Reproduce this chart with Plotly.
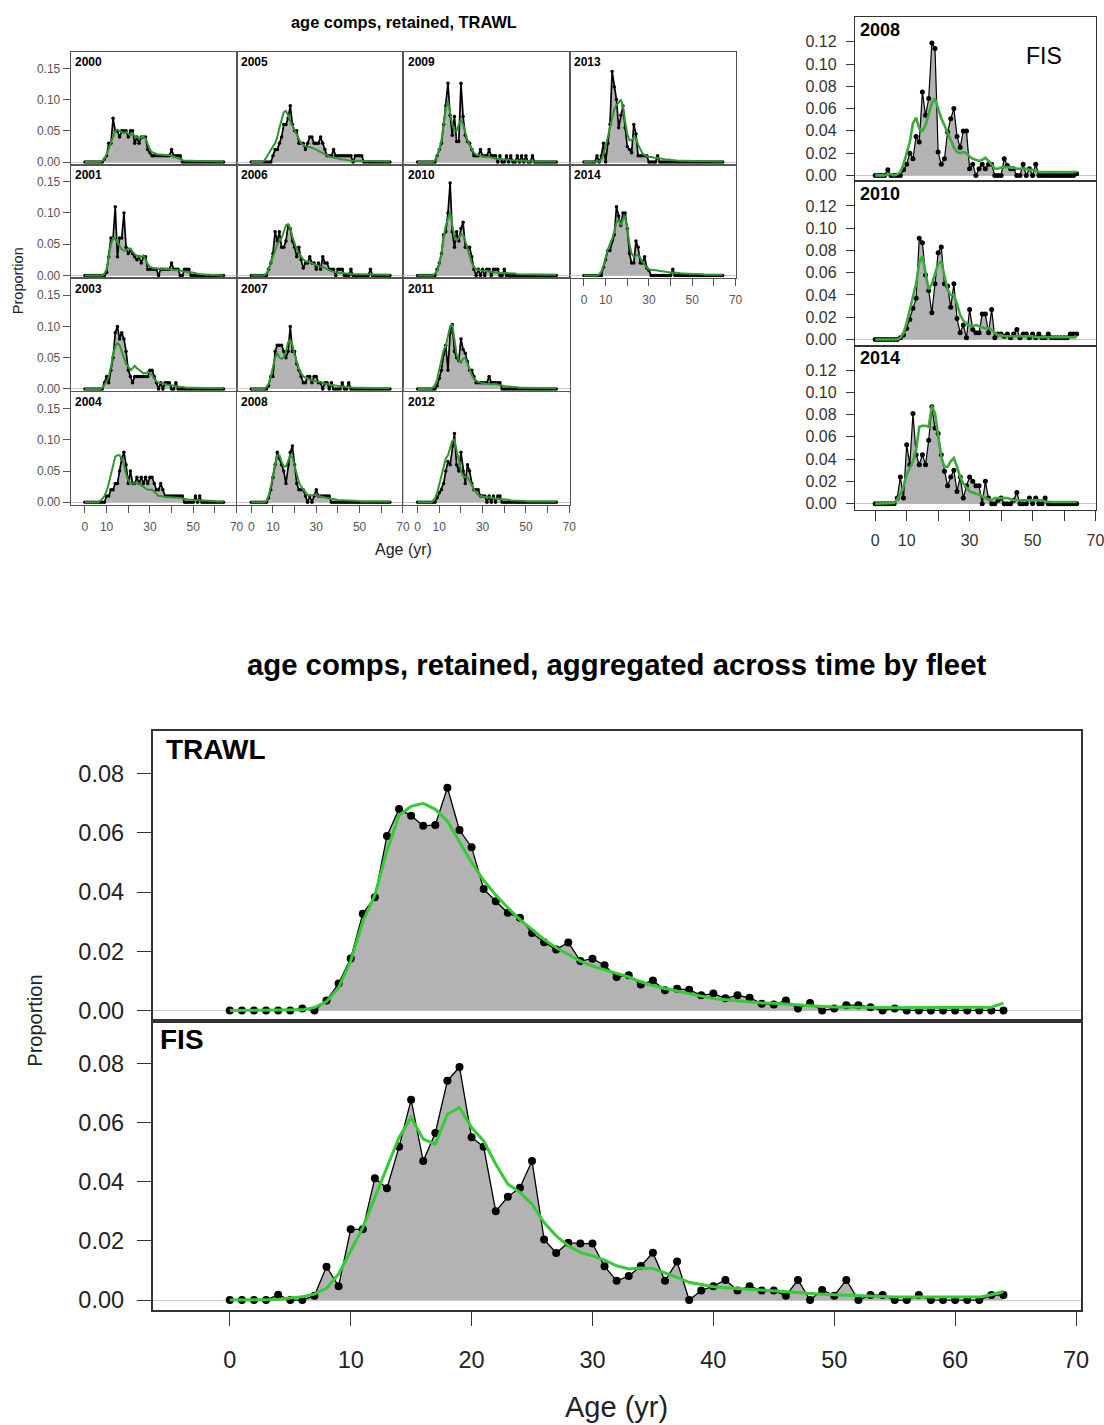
import plotly.graph_objects as go

ages = list(range(65))

# ---------------- TRAWL by year (observed / expected) ----------------
trawl_2000_obs = [0,0,0,0,0,0,0,0,0,0.005,
    0.01,0.03,0.03,0.07,0.05,0.05,0.04,0.05,0.05,0.05,
    0.04,0.05,0.05,0.03,0.04,0.03,0.04,0.04,0.04,0.02,
    0.015,0.01,0.01,0.01,0.01,0.01,0.01,0.01,0.01,0.01,
    0.02,0.01,0.01,0.01,0.01,0,0,0,0,0,
    0,0,0,0,0,0,0,0,0,0,
    0,0,0,0,0]
trawl_2000_exp = [0,0,0,0,0,0,0,0,0.002,0.006,
    0.012,0.022,0.033,0.043,0.05,0.052,0.05,0.047,0.046,0.048,
    0.045,0.043,0.046,0.042,0.04,0.038,0.04,0.04,0.038,0.028,
    0.02,0.016,0.014,0.013,0.012,0.012,0.012,0.012,0.011,0.011,
    0.01,0.009,0.008,0.006,0.005,0.003,0.002,0.002,0.002,0.002,
    0.002,0.001,0.001,0.001,0.001,0.001,0.001,0.001,0.001,0.001,
    0.001,0.001,0.001,0.001,0.001]
trawl_2001_obs = [0,0,0,0,0,0,0,0,0,0,
    0.005,0.03,0.06,0.06,0.11,0.03,0.06,0.06,0.10,0.045,
    0.035,0.04,0.035,0.03,0.025,0.03,0.02,0.03,0.03,0.01,
    0.01,0.01,0.01,0.01,0,0.01,0.01,0.01,0.01,0.01,
    0.02,0.01,0.01,0.01,0,0,0.01,0.01,0.01,0,
    0,0,0,0,0,0,0,0,0,0,
    0,0,0,0,0]
trawl_2001_exp = [0,0,0,0,0,0,0,0,0,0.003,
    0.01,0.03,0.05,0.06,0.058,0.053,0.048,0.042,0.04,0.04,
    0.043,0.043,0.038,0.034,0.032,0.03,0.03,0.032,0.025,0.018,
    0.014,0.012,0.011,0.011,0.011,0.011,0.01,0.01,0.01,0.01,
    0.01,0.009,0.009,0.008,0.008,0.007,0.006,0.006,0.005,0.005,
    0.004,0.003,0.003,0.002,0.002,0.001,0.001,0.001,0.001,0.001,
    0.001,0.001,0,0,0]
trawl_2003_obs = [0,0,0,0,0,0,0,0,0,0.01,
    0.02,0.01,0.03,0.05,0.09,0.10,0.08,0.09,0.08,0.06,
    0.03,0.02,0.01,0.02,0.02,0.02,0.02,0.02,0.02,0.02,
    0.03,0.03,0.02,0.01,0,0.01,0,0.01,0.01,0.01,
    0,0,0.01,0,0,0,0,0,0,0,
    0,0,0,0,0,0,0,0,0,0,
    0,0,0,0,0]
trawl_2003_exp = [0,0,0,0,0,0,0,0,0.002,0.006,
    0.012,0.02,0.035,0.055,0.068,0.073,0.07,0.06,0.048,0.04,
    0.036,0.03,0.033,0.037,0.033,0.03,0.027,0.025,0.025,0.027,
    0.025,0.022,0.016,0.012,0.01,0.009,0.008,0.008,0.007,0.006,
    0.006,0.005,0.004,0.004,0.003,0.003,0.002,0.002,0.002,0.002,
    0.001,0.001,0.001,0.001,0.001,0.001,0.001,0.001,0.001,0.001,
    0.001,0.001,0.001,0.001,0.001]
trawl_2004_obs = [0,0,0,0,0,0,0,0,0,0,
    0.01,0.01,0.02,0.02,0.03,0.03,0.05,0.07,0.08,0.06,
    0.03,0.05,0.03,0.03,0.04,0.03,0.04,0.03,0.04,0.03,
    0.04,0.04,0.03,0.02,0.02,0.03,0.02,0.01,0.01,0.01,
    0.01,0.01,0.01,0.01,0.01,0.01,0,0,0,0,
    0,0.01,0,0.01,0,0,0,0,0,0,
    0,0,0,0,0]
trawl_2004_exp = [0,0,0,0,0,0,0,0.002,0.005,0.01,
    0.018,0.03,0.045,0.062,0.073,0.075,0.075,0.07,0.06,0.045,
    0.035,0.03,0.03,0.03,0.032,0.03,0.028,0.025,0.022,0.02,
    0.02,0.02,0.017,0.013,0.01,0.01,0.009,0.009,0.008,0.008,
    0.008,0.007,0.007,0.007,0.007,0.006,0.005,0.005,0.004,0.004,
    0.003,0.003,0.003,0.003,0.003,0.003,0.002,0.002,0.002,0.002,
    0.002,0.001,0.001,0.001,0.001]
trawl_2005_obs = [0,0,0,0,0,0,0,0,0,0,
    0.01,0.02,0.02,0.03,0.04,0.06,0.06,0.07,0.09,0.06,
    0.05,0.05,0.03,0.03,0.03,0.02,0.03,0.04,0.04,0.03,
    0.03,0.03,0.04,0.03,0.02,0.01,0.01,0.01,0.02,0.01,
    0.01,0.01,0.01,0.01,0.01,0.01,0.01,0,0.01,0.01,
    0.01,0.01,0,0,0,0,0,0,0,0,
    0,0,0,0,0]
trawl_2005_exp = [0,0,0,0,0,0,0.002,0.008,0.015,0.02,
    0.025,0.03,0.04,0.055,0.07,0.08,0.082,0.075,0.065,0.058,
    0.05,0.043,0.035,0.03,0.027,0.025,0.024,0.024,0.023,0.022,
    0.02,0.018,0.016,0.014,0.012,0.01,0.009,0.008,0.007,0.006,
    0.005,0.004,0.004,0.004,0.003,0.003,0.002,0.002,0.002,0.002,
    0.002,0.001,0.001,0.001,0.001,0.001,0.001,0.001,0.001,0.001,
    0.001,0.001,0.001,0.001,0.001]
trawl_2006_obs = [0,0,0,0,0,0,0,0,0.01,0.02,
    0.035,0.07,0.055,0.07,0.045,0.045,0.055,0.08,0.075,0.055,
    0.045,0.03,0.045,0.025,0.012,0.02,0.02,0.03,0.02,0.02,
    0.01,0.02,0.01,0.03,0.02,0.02,0.01,0.01,0.01,0,
    0.01,0.01,0.01,0,0,0,0.01,0,0,0,
    0,0,0,0,0,0.01,0,0,0,0,
    0,0,0,0,0]
trawl_2006_exp = [0,0,0,0,0,0,0,0.003,0.01,0.02,
    0.03,0.042,0.05,0.055,0.06,0.07,0.08,0.082,0.075,0.062,
    0.05,0.042,0.035,0.03,0.026,0.023,0.022,0.022,0.02,0.018,
    0.016,0.015,0.014,0.014,0.012,0.01,0.008,0.007,0.006,0.005,
    0.005,0.004,0.004,0.003,0.003,0.003,0.002,0.002,0.002,0.002,
    0.002,0.001,0.001,0.001,0.001,0.001,0.001,0.001,0.001,0.001,
    0.001,0.001,0.001,0.001,0.001]
trawl_2007_obs = [0,0,0,0,0,0,0,0,0.005,0.02,
    0.02,0.06,0.07,0.07,0.07,0.06,0.05,0.06,0.10,0.06,
    0.06,0.04,0.03,0.02,0.01,0.01,0.02,0.02,0.01,0.02,
    0.02,0.01,0.01,0,0.01,0.01,0,0.01,0,0,
    0,0,0.01,0,0,0.01,0,0,0,0,
    0,0,0,0,0,0,0,0,0,0,
    0,0,0,0,0]
trawl_2007_exp = [0,0,0,0,0,0,0,0.003,0.008,0.02,
    0.035,0.05,0.057,0.05,0.048,0.05,0.06,0.075,0.078,0.07,
    0.055,0.042,0.032,0.025,0.02,0.018,0.016,0.015,0.014,0.013,
    0.012,0.011,0.01,0.009,0.009,0.008,0.007,0.006,0.006,0.005,
    0.005,0.004,0.004,0.003,0.003,0.003,0.002,0.002,0.002,0.002,
    0.002,0.001,0.001,0.001,0.001,0.001,0.001,0.001,0.001,0.001,
    0.001,0.001,0.001,0.001,0.001]
trawl_2008_obs = [0,0,0,0,0,0,0,0,0.007,0.02,
    0.04,0.06,0.08,0.07,0.06,0.05,0.03,0.06,0.08,0.09,
    0.06,0.03,0.02,0.02,0.02,0.01,0,0.01,0,0.01,
    0.02,0.01,0.01,0.01,0.01,0.01,0.01,0,0,0,
    0,0,0,0,0,0,0,0,0,0,
    0,0,0,0,0,0,0,0,0,0,
    0,0,0,0,0]
trawl_2008_exp = [0,0,0,0,0,0,0,0.002,0.01,0.025,
    0.045,0.06,0.075,0.075,0.065,0.057,0.057,0.065,0.075,0.072,
    0.06,0.045,0.032,0.025,0.02,0.015,0.012,0.011,0.011,0.012,
    0.012,0.01,0.009,0.008,0.008,0.007,0.006,0.005,0.005,0.004,
    0.004,0.003,0.003,0.003,0.003,0.002,0.002,0.002,0.002,0.002,
    0.002,0.001,0.001,0.001,0.001,0.001,0.001,0.001,0.001,0.001,
    0.001,0.001,0.001,0.001,0.001]
trawl_2009_obs = [0,0,0,0,0,0,0,0,0,0.01,
    0.02,0.03,0.06,0.09,0.126,0.075,0.043,0.073,0.033,0.033,
    0.126,0.073,0.043,0.033,0.03,0.02,0.01,0.01,0.01,0.02,
    0.01,0.01,0.01,0.02,0.01,0.01,0.01,0,0.01,0,
    0,0.01,0,0.01,0,0,0.01,0,0.01,0,
    0.01,0,0,0.01,0,0,0,0,0,0,
    0,0,0,0,0]
trawl_2009_exp = [0,0,0,0,0,0,0,0,0.003,0.01,
    0.02,0.035,0.06,0.085,0.098,0.08,0.06,0.05,0.05,0.06,
    0.068,0.06,0.045,0.035,0.027,0.02,0.015,0.012,0.011,0.01,
    0.009,0.009,0.008,0.008,0.007,0.007,0.006,0.005,0.005,0.005,
    0.004,0.004,0.004,0.003,0.003,0.003,0.002,0.002,0.002,0.002,
    0.002,0.001,0.001,0.001,0.001,0.001,0.001,0.001,0.001,0.001,
    0.001,0.001,0.001,0.001,0.001]
trawl_2010_obs = [0,0,0,0,0,0,0,0,0,0.01,
    0.02,0.035,0.065,0.07,0.10,0.148,0.07,0.045,0.07,0.055,
    0.075,0.085,0.045,0.045,0.045,0.03,0.01,0,0.01,0,
    0.01,0,0.01,0.01,0,0.01,0.01,0.01,0,0,
    0.01,0,0,0,0,0,0,0,0,0,
    0,0,0,0,0,0,0,0,0,0,
    0,0,0,0,0]
trawl_2010_exp = [0,0,0,0,0,0,0,0,0.003,0.008,
    0.018,0.035,0.06,0.08,0.09,0.102,0.08,0.062,0.056,0.06,
    0.066,0.065,0.055,0.042,0.03,0.02,0.014,0.01,0.009,0.008,
    0.008,0.007,0.007,0.006,0.006,0.005,0.005,0.004,0.004,0.004,
    0.004,0.003,0.003,0.003,0.003,0.003,0.002,0.002,0.002,0.002,
    0.002,0.001,0.001,0.001,0.001,0.001,0.001,0.001,0.001,0.001,
    0.001,0.001,0.001,0.001,0.001]
trawl_2011_obs = [0,0,0,0,0,0,0,0,0,0.005,
    0.017,0.03,0.055,0.07,0.03,0.09,0.103,0.06,0.05,0.045,
    0.08,0.063,0.057,0.044,0.03,0.03,0.02,0.01,0.01,0.01,
    0.01,0.01,0.01,0.02,0.01,0.01,0.01,0.01,0.01,0,
    0,0,0,0,0,0,0,0,0,0,
    0,0,0,0,0,0,0,0,0,0,
    0,0,0,0,0]
trawl_2011_exp = [0,0,0,0,0,0,0,0.002,0.006,0.015,
    0.03,0.05,0.062,0.068,0.085,0.1,0.103,0.075,0.055,0.045,
    0.042,0.048,0.05,0.04,0.03,0.022,0.016,0.013,0.011,0.01,
    0.009,0.009,0.008,0.008,0.007,0.008,0.008,0.007,0.006,0.005,
    0.005,0.004,0.004,0.003,0.003,0.003,0.002,0.002,0.002,0.002,
    0.002,0.001,0.001,0.001,0.001,0.001,0.001,0.001,0.001,0.001,
    0.001,0.001,0.001,0.001,0.001]
trawl_2012_obs = [0,0,0,0,0,0,0,0,0,0.007,
    0.015,0.02,0.03,0.05,0.065,0.06,0.09,0.11,0.06,0.05,
    0.08,0.05,0.03,0.06,0.05,0.03,0.02,0.02,0.02,0.01,
    0.01,0.01,0,0.01,0,0.01,0,0.01,0.01,0,
    0,0,0,0,0,0,0,0,0,0,
    0,0,0,0,0,0,0,0,0,0,
    0,0,0,0,0]
trawl_2012_exp = [0,0,0,0,0,0,0,0.002,0.006,0.015,
    0.03,0.045,0.06,0.07,0.075,0.085,0.098,0.1,0.085,0.065,
    0.05,0.042,0.04,0.04,0.035,0.028,0.02,0.015,0.012,0.01,
    0.009,0.009,0.008,0.008,0.007,0.007,0.006,0.005,0.005,0.005,
    0.004,0.004,0.004,0.003,0.003,0.003,0.002,0.002,0.002,0.002,
    0.002,0.001,0.001,0.001,0.001,0.001,0.001,0.001,0.001,0.001,
    0.001,0.001,0.001,0.001,0.001]
trawl_2013_obs = [0,0,0,0,0,0,0.01,0,0.01,0.03,
    0,0.03,0.06,0.145,0.12,0.10,0.055,0.075,0.09,0.055,
    0.025,0.02,0.015,0.06,0.045,0.01,0.01,0.01,0.01,0.01,
    0,0,0,0,0.01,0,0,0,0,0,
    0,0,0,0,0,0,0,0,0,0,
    0,0,0,0,0,0,0,0,0,0,
    0,0,0,0,0]
trawl_2013_exp = [0,0,0,0,0,0,0,0.001,0.004,0.012,
    0.025,0.04,0.055,0.07,0.085,0.092,0.095,0.1,0.09,0.065,
    0.045,0.035,0.035,0.04,0.038,0.028,0.02,0.014,0.011,0.009,
    0.008,0.008,0.007,0.007,0.006,0.006,0.005,0.004,0.004,0.004,
    0.003,0.003,0.003,0.002,0.002,0.002,0.002,0.002,0.001,0.001,
    0.001,0.001,0.001,0.001,0.001,0.001,0.001,0.001,0.001,0.001,
    0.001,0.001,0.001,0.001,0.001]
trawl_2014_obs = [0,0,0,0,0,0,0,0,0,0.013,
    0.025,0.04,0.04,0.055,0.065,0.11,0.095,0.08,0.10,0.10,
    0.075,0.035,0.02,0.02,0.055,0.045,0.02,0.02,0.03,0.012,
    0.008,0,0,0,0,0,0,0,0,0,
    0,0.01,0,0,0,0,0,0,0,0,
    0,0,0,0,0,0,0,0,0,0,
    0,0,0,0,0]
trawl_2014_exp = [0,0,0,0,0,0,0,0.002,0.006,0.015,
    0.028,0.042,0.05,0.058,0.07,0.085,0.09,0.08,0.09,0.095,
    0.075,0.05,0.035,0.03,0.032,0.033,0.028,0.022,0.017,0.013,
    0.01,0.009,0.009,0.008,0.008,0.007,0.007,0.006,0.006,0.005,
    0.005,0.005,0.004,0.004,0.004,0.003,0.003,0.003,0.002,0.002,
    0.002,0.002,0.002,0.002,0.002,0.002,0.001,0.001,0.001,0.001,
    0.001,0.001,0.001,0.001,0.001]

# ---------------- FIS by year ----------------
fis_2008_obs = [0,0,0,0,0.005,0,0,0,0,0.005,
    0.01,0.02,0.015,0.035,0.03,0.075,0.054,0.069,0.119,0.114,
    0.021,0.01,0.015,0.039,0.051,0.06,0.035,0.025,0.04,0.04,
    0.006,0.01,0,0.006,0.01,0.006,0.01,0.01,0,0,
    0,0.015,0.009,0.006,0.006,0,0,0.01,0,0.006,
    0,0.01,0,0,0,0,0,0,0,0,
    0,0,0,0,0.0015]
fis_2008_exp = [0,0,0,0,0.001,0.001,0,0.001,0.003,0.01,
    0.02,0.03,0.047,0.052,0.042,0.04,0.045,0.056,0.065,0.069,
    0.06,0.051,0.045,0.039,0.032,0.025,0.021,0.02,0.021,0.02,
    0.017,0.015,0.014,0.013,0.014,0.016,0.013,0.01,0.006,0.006,
    0.007,0.0075,0.0075,0.007,0.007,0.006,0.006,0.006,0.006,0.005,
    0.005,0.004,0.003,0.003,0.003,0.003,0.003,0.003,0.003,0.003,
    0.003,0.003,0.003,0.003,0.003]
fis_2010_obs = [0,0,0,0,0,0,0,0,0.0015,0.004,
    0.01,0.018,0.028,0.037,0.091,0.087,0.058,0.044,0.024,0.05,
    0.078,0.083,0.05,0.048,0.029,0.05,0.019,0.006,0.013,0.0015,
    0.027,0.009,0.006,0.006,0.023,0.023,0.006,0.027,0.0015,0.005,
    0.005,0.003,0.005,0.0015,0.005,0.009,0.0015,0.005,0.005,0.0015,
    0.005,0.0015,0.005,0.0015,0.0015,0.005,0.0015,0.0015,0.0015,0.0015,
    0.0015,0.0015,0.005,0.005,0.005]
fis_2010_exp = [0,0,0,0,0,0,0,0,0.0015,0.006,
    0.015,0.026,0.037,0.05,0.069,0.075,0.06,0.045,0.05,0.06,
    0.068,0.07,0.058,0.045,0.04,0.04,0.032,0.022,0.017,0.014,
    0.012,0.012,0.013,0.012,0.011,0.01,0.01,0.009,0.006,0.004,
    0.004,0.003,0.003,0.003,0.003,0.003,0.003,0.003,0.003,0.003,
    0.003,0.002,0.002,0.002,0.002,0.002,0.002,0.002,0.002,0.002,
    0.002,0.002,0.002,0.002,0.003]
fis_2014_obs = [0,0,0,0,0,0,0,0.005,0.024,0.005,
    0.053,0.035,0.081,0.044,0.035,0.044,0.035,0.057,0.087,0.068,
    0.063,0.044,0.029,0.016,0.024,0.03,0.011,0.024,0.005,0.016,
    0.024,0.02,0.016,0.016,0,0.02,0.005,0,0,0.003,
    0.005,0,0,0,0.003,0.01,0,0,0,0.005,
    0,0.005,0,0,0.005,0,0,0,0,0,
    0,0,0,0,0]
fis_2014_exp = [0,0,0,0,0,0,0.0005,0.004,0.008,0.016,
    0.026,0.032,0.038,0.048,0.069,0.07,0.07,0.069,0.088,0.081,
    0.06,0.042,0.033,0.033,0.038,0.041,0.033,0.024,0.018,0.014,
    0.011,0.01,0.009,0.008,0.007,0.005,0.004,0.003,0.005,0.005,
    0.005,0.005,0.005,0.004,0.003,0.003,0.003,0.003,0.003,0.003,
    0.003,0.003,0.003,0.003,0.002,0.0015,0.0015,0.0015,0.0015,0.0015,
    0.0015,0.0015,0.0015,0.0015,0.0015]

# ---------------- aggregated across time ----------------
agg_trawl_obs = [0,0,0,0,0,0,0.0007,0,0.0034,0.0091,
    0.0176,0.0327,0.0383,0.059,0.0681,0.0658,0.0624,0.0627,0.0753,0.061,
    0.0552,0.0411,0.0369,0.033,0.0313,0.0262,0.0231,0.0206,0.023,0.0167,
    0.0175,0.0153,0.0113,0.0119,0.0088,0.0101,0.0068,0.0073,0.007,0.0051,
    0.0057,0.0041,0.0051,0.0043,0.0023,0.002,0.0034,0.0007,0.0025,0,
    0.0007,0.0018,0.0018,0.0011,0,0.0007,0,0,0,0,
    0,0,0,0,0]
agg_trawl_exp = [0,0,0,0,0,0,0.0002,0.001,0.003,0.0077,
    0.0167,0.030,0.039,0.054,0.066,0.069,0.070,0.068,0.064,0.057,
    0.050,0.044,0.039,0.0347,0.0307,0.0274,0.024,0.0212,0.0189,0.0167,
    0.015,0.0138,0.0125,0.0113,0.0097,0.0084,0.0074,0.0065,0.0056,0.0048,
    0.004,0.0036,0.0032,0.0028,0.0025,0.0024,0.0021,0.0019,0.0015,0.0013,
    0.0012,0.0012,0.0011,0.0011,0.001,0.0009,0.0009,0.0009,0.0009,0.0009,
    0.0009,0.0009,0.0009,0.0011,0.0025]
agg_fis_obs = [0,0,0,0,0.0018,0,0,0.0015,0.0113,0.0047,
    0.0239,0.0239,0.0412,0.0378,0.0518,0.0677,0.047,0.0565,0.0741,0.0788,
    0.055,0.0518,0.030,0.0349,0.038,0.047,0.0205,0.0159,0.0194,0.0191,
    0.0191,0.0114,0.0065,0.0081,0.0115,0.016,0.0065,0.013,0,0.0032,
    0.0047,0.0068,0.0032,0.0047,0.0032,0.0032,0.0015,0.0068,0,0.0034,
    0.0015,0.0068,0,0.0017,0.0017,0,0,0.0017,0,0,
    0,0,0,0.0017,0.0017]
agg_fis_exp = [0,0,0,0,0.0002,0.0007,0.0011,0.002,0.004,0.0088,
    0.0167,0.0245,0.0347,0.0448,0.055,0.0617,0.0544,0.0527,0.0628,0.0651,
    0.0583,0.0538,0.0459,0.0392,0.0364,0.0324,0.0262,0.0217,0.0184,0.0161,
    0.015,0.0135,0.0116,0.0105,0.0108,0.0107,0.0093,0.0077,0.006,0.0052,
    0.0045,0.0042,0.0039,0.0036,0.0034,0.0032,0.0029,0.0026,0.0023,0.002,
    0.0018,0.0016,0.0015,0.0012,0.0011,0.001,0.001,0.001,0.001,0.001,
    0.001,0.001,0.001,0.0018,0.0029]

x_tick_vals = [0, 10, 20, 30, 40, 50, 60, 70]
x_tick_text_small = ['0', '10', '', '30', '', '50', '', '70']
x_tick_text_big = ['0', '10', '20', '30', '40', '50', '60', '70']
grid_y_vals = [0, 0.05, 0.10, 0.15]
fis_y_vals = [0, 0.02, 0.04, 0.06, 0.08, 0.10, 0.12]
agg_y_vals = [0, 0.02, 0.04, 0.06, 0.08]

# ---------------- layout helpers ----------------
# target picture coordinates are given in a 1104 x 1425 frame
W, H = 1104, 1425
FIG_W, FIG_H = 1111, 1430
FONT = "Liberation Sans, Arial, sans-serif"


def fx(x):
    return x / W


def fy(y):
    return 1 - y / H


STYLES = {
    'grid': dict(obs_w=1.7, ms=3.5, exp_c='#2f962f', exp_w=2.0, frame='#555555', frame_w=1,
                 tf=12, tc='#555555', tlx=6.5, tly=7, sox=4, soy=0, yv=grid_y_vals,
                 xt=x_tick_text_small),
    'fis': dict(obs_w=1.2, ms=5, exp_c='#3aaa3a', exp_w=2.6, frame='#333333', frame_w=1.3,
                tf=16, tc='#333333', tlx=10, tly=8, sox=6, soy=6, yv=fis_y_vals,
                xt=x_tick_text_small),
    'agg': dict(obs_w=1.3, ms=8, exp_c='#33cc33', exp_w=3, frame='#333333', frame_w=1.5,
                tf=23.5, tc='#222222', tlx=14, tly=14, sox=14, soy=8, yv=agg_y_vals,
                xt=x_tick_text_big),
}

fig = go.Figure()
layout = dict(width=FIG_W, height=FIG_H, margin=dict(l=0, r=0, t=0, b=0),
              paper_bgcolor='white', plot_bgcolor='white', showlegend=False)
annotations = []
counter = [0]


def add_panel(obs, exp, x0, x1, top, bot, xr, yr, style, showx, showy):
    assert len(obs) == 65 and len(exp) == 65
    counter[0] += 1
    i = counter[0]
    s = STYLES[style]
    xa = 'x' if i == 1 else 'x%d' % i
    ya = 'y' if i == 1 else 'y%d' % i
    fig.add_trace(go.Scatter(x=ages, y=obs, xaxis=xa, yaxis=ya, mode='lines',
                             line=dict(width=0, color='rgba(0,0,0,0)'),
                             fill='tozeroy', fillcolor='#b3b3b3', hoverinfo='skip'))
    fig.add_trace(go.Scatter(x=ages, y=obs, xaxis=xa, yaxis=ya, mode='lines+markers',
                             line=dict(width=s['obs_w'], color='black'),
                             marker=dict(size=s['ms'], color='black')))
    fig.add_trace(go.Scatter(x=ages, y=exp, xaxis=xa, yaxis=ya, mode='lines',
                             line=dict(width=s['exp_w'], color=s['exp_c'])))
    key = '' if i == 1 else str(i)
    layout['xaxis' + key] = dict(
        domain=[fx(x0), fx(x1)], range=xr, anchor=ya, showgrid=False, zeroline=False,
        showline=True, mirror=True, linecolor=s['frame'], linewidth=s['frame_w'],
        ticks='outside' if showx else '', ticklen=s['tlx'], tickcolor=s['frame'],
        tickvals=x_tick_vals, ticktext=s['xt'], showticklabels=showx,
        ticklabelstandoff=s['sox'],
        tickfont=dict(family=FONT, size=s['tf'], color=s['tc']), fixedrange=True)
    layout['yaxis' + key] = dict(
        domain=[fy(bot), fy(top)], range=yr, anchor=xa, showgrid=False,
        zeroline=True, zerolinecolor='#c8c8c8', zerolinewidth=1,
        showline=True, mirror=True, linecolor=s['frame'], linewidth=s['frame_w'],
        ticks='outside' if showy else '', ticklen=s['tly'], tickcolor=s['frame'],
        tickvals=s['yv'], tickformat='.2f', showticklabels=showy,
        ticklabelstandoff=s['soy'],
        tickfont=dict(family=FONT, size=s['tf'], color=s['tc']), fixedrange=True)


def label(text, x, y, size, bold=False, anchor='left', angle=0, color='black'):
    annotations.append(dict(
        text='<b>%s</b>' % text if bold else text, x=fx(x), y=fy(y),
        xref='paper', yref='paper', xanchor=anchor, yanchor='middle',
        showarrow=False, textangle=angle, borderpad=0,
        font=dict(family=FONT, size=size, color=color)))


# ---------------- TRAWL grid (top-left) ----------------
grid_panels = [
    (0, 0, '2000', trawl_2000_obs, trawl_2000_exp),
    (0, 1, '2001', trawl_2001_obs, trawl_2001_exp),
    (0, 2, '2003', trawl_2003_obs, trawl_2003_exp),
    (0, 3, '2004', trawl_2004_obs, trawl_2004_exp),
    (1, 0, '2005', trawl_2005_obs, trawl_2005_exp),
    (1, 1, '2006', trawl_2006_obs, trawl_2006_exp),
    (1, 2, '2007', trawl_2007_obs, trawl_2007_exp),
    (1, 3, '2008', trawl_2008_obs, trawl_2008_exp),
    (2, 0, '2009', trawl_2009_obs, trawl_2009_exp),
    (2, 1, '2010', trawl_2010_obs, trawl_2010_exp),
    (2, 2, '2011', trawl_2011_obs, trawl_2011_exp),
    (2, 3, '2012', trawl_2012_obs, trawl_2012_exp),
    (3, 0, '2013', trawl_2013_obs, trawl_2013_exp),
    (3, 1, '2014', trawl_2014_obs, trawl_2014_exp),
]
GX0, GW, GY0, GH = 70.7, 166.5, 51.7, 113.3
for c, r, yr_lbl, o, e in grid_panels:
    x0 = GX0 + c * GW
    top = GY0 + r * GH
    showx = (r == 3) if c < 3 else (r == 1)
    add_panel(o, e, x0, x0 + GW, top, top + GH, [-6.6, 70.2], [-0.0048, 0.1766],
              'grid', showx, c == 0)
    label(yr_lbl, x0 + 3.3, top + 10, 12, bold=True)

label('age comps, retained, TRAWL', 404, 22, 16.4, bold=True, anchor='center')
label('Proportion', 18, 280, 14.5, anchor='center', angle=-90, color='#222222')
label('Age (yr)', 404, 549, 16, anchor='center', color='#222222')

# ---------------- FIS by year (top-right) ----------------
fis_panels = [
    ('2008', fis_2008_obs, fis_2008_exp),
    ('2010', fis_2010_obs, fis_2010_exp),
    ('2014', fis_2014_obs, fis_2014_exp),
]
FX0, FX1, FY0, FH = 855.7, 1096.7, 17.3, 164.0
for r, (yr_lbl, o, e) in enumerate(fis_panels):
    top = FY0 + r * FH
    add_panel(o, e, FX0, FX1, top, top + FH, [-6.44, 70.06], [-0.0054, 0.142],
              'fis', r == 2, True)
    label(yr_lbl, FX0 + 4.3, top + 12.5, 18, bold=True)
label('FIS', 1045, 56, 23, anchor='center')

# ---------------- aggregated (bottom) ----------------
AX0, AX1, AY0, AH = 152.7, 1082.3, 730.7, 289.4
agg_panels = [('TRAWL', agg_trawl_obs, agg_trawl_exp, 165, 749),
              ('FIS', agg_fis_obs, agg_fis_exp, 158.7, 1039)]
for r, (name, o, e, lx, ly) in enumerate(agg_panels):
    top = AY0 + r * AH
    add_panel(o, e, AX0, AX1, top, top + AH, [-6.39, 70.44], [-0.0035, 0.0944],
              'agg', r == 1, True)
    label(name, lx, ly, 28, bold=True)

label('age comps, retained, aggregated across time by fleet', 617, 664, 29.3,
      bold=True, anchor='center')
label('Proportion', 35, 1020, 20, anchor='center', angle=-90, color='#222222')
label('Age (yr)', 617, 1406, 29, anchor='center', color='#222222')

layout['annotations'] = annotations
fig.update_layout(**layout)
fig.write_html('out.html')
